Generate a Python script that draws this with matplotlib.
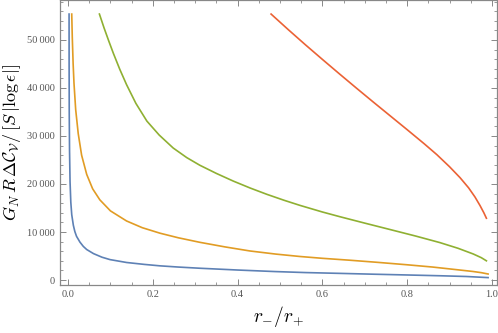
import matplotlib.pyplot as plt
from matplotlib.ticker import MultipleLocator, FuncFormatter

# values
blue_x = [0.0024, 0.0025, 0.0028, 0.0035, 0.0047, 0.0065, 0.0087, 0.0125, 0.016, 0.020,
          0.028, 0.036, 0.044, 0.060, 0.080, 0.099, 0.138, 0.18, 0.217, 0.26,
          0.311, 0.40, 0.488, 0.56, 0.642, 0.72, 0.799, 0.88, 0.94, 0.991]
blue_y = [55400, 45000, 35000, 27000, 20500, 16200, 13600, 11400, 10100, 9100,
          7900, 7000, 6350, 5500, 4750, 4250, 3650, 3250, 2950, 2700,
          2450, 2080, 1760, 1550, 1380, 1210, 1050, 880, 730, 500]

orange_x = [0.0087, 0.010, 0.012, 0.014, 0.018, 0.024, 0.032, 0.044, 0.058, 0.075,
            0.10, 0.138, 0.175, 0.217, 0.26, 0.311, 0.37, 0.429, 0.49, 0.547,
            0.60, 0.665, 0.73, 0.799, 0.86, 0.917, 0.955, 0.975, 0.991]
orange_y = [55400, 50500, 45000, 41000, 35500, 30500, 26000, 22000, 19000, 16700,
            14400, 12300, 10900, 9750, 8800, 7850, 6900, 6050, 5400, 4900,
            4520, 4120, 3680, 3180, 2700, 2150, 1780, 1530, 1250]

green_x = [0.074, 0.085, 0.096, 0.107, 0.122, 0.138, 0.16, 0.186, 0.215, 0.248,
           0.28, 0.311, 0.35, 0.39, 0.43, 0.469, 0.51, 0.547, 0.60, 0.642,
           0.70, 0.759, 0.82, 0.877, 0.92, 0.956, 0.975, 0.987]
green_y = [55400, 52500, 49800, 47200, 43900, 40700, 36800, 33100, 30200, 27500,
           25500, 23900, 22200, 20600, 19150, 17850, 16600, 15550, 14170, 13170,
           11850, 10530, 9160, 7800, 6610, 5420, 4650, 4000]

red_x = [0.479, 0.52, 0.56, 0.60, 0.64, 0.68, 0.72, 0.76, 0.80, 0.84,
         0.87, 0.90, 0.925, 0.945, 0.96, 0.972, 0.981, 0.987]
red_y = [55400, 52120, 49000, 45960, 42960, 40000, 37080, 34200, 31320, 28400,
         26120, 23600, 21300, 19200, 17300, 15500, 14000, 12870]

plt.rcParams['mathtext.fontset'] = 'cm'

fig = plt.figure(figsize=(4.98, 3.33), dpi=100)
ax = fig.add_axes([60 / 498, 48 / 333, 437 / 498, 285 / 333])

ax.plot(blue_x, blue_y, color='#5E81B5', lw=1.2)
ax.plot(orange_x, orange_y, color='#E19C24', lw=1.2)
ax.plot(green_x, green_y, color='#8FB032', lw=1.2)
ax.plot(red_x, red_y, color='#EB6235', lw=1.2)

ax.set_xlim(-0.019, 1.012)
ax.set_ylim(-1040, 58330)

ax.xaxis.set_major_locator(MultipleLocator(0.2))
ax.xaxis.set_minor_locator(MultipleLocator(0.05))
ax.yaxis.set_major_locator(MultipleLocator(10000))
ax.yaxis.set_minor_locator(MultipleLocator(2000))
ax.yaxis.set_major_formatter(FuncFormatter(lambda v, p: f"{int(v):,}".replace(",", "\u2009")))
ax.xaxis.set_major_formatter(FuncFormatter(lambda v, p: f"{v:.1f}"))

ax.tick_params(which='both', direction='in', top=True, right=True, color='#888888',
               labelcolor='#555555', labelsize=7.5)
ax.tick_params(which='major', length=4, width=0.7)
ax.tick_params(which='minor', length=2.2, width=0.6)
for lbl in ax.get_xticklabels() + ax.get_yticklabels():
    lbl.set_family('Liberation Serif')
for s in ax.spines.values():
    s.set_color('#888888')
    s.set_linewidth(0.9)

ax.set_xlabel(r'$r_{-}/r_{+}$', fontsize=14, labelpad=4)
ax.set_ylabel(r'$G_N\, R\, \Delta\mathcal{C}_\mathcal{V}/\,[S\,|\log\epsilon|]$', fontsize=13, labelpad=3)

fig.savefig('out.png', dpi=100)
